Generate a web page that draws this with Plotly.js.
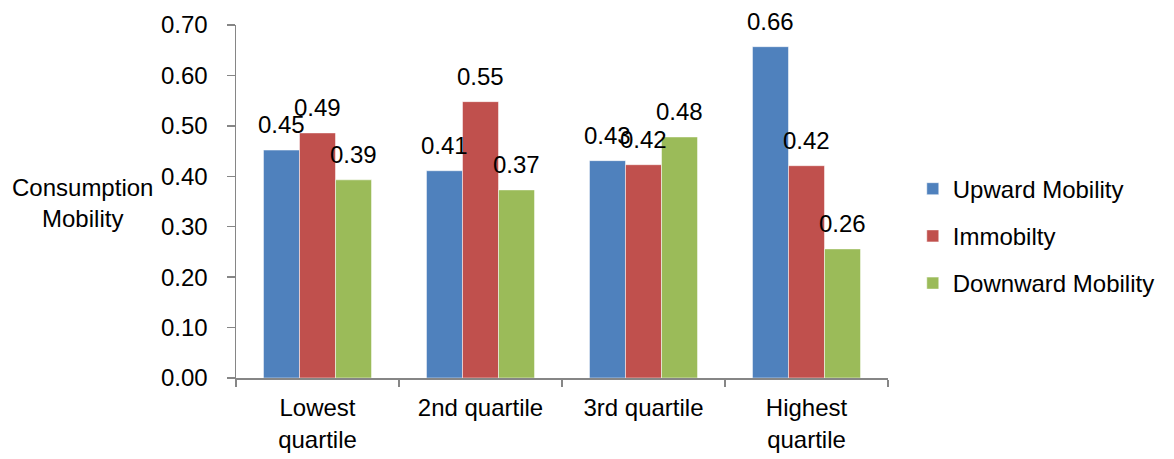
<!DOCTYPE html>
<html>
<head>
<meta charset="utf-8">
<script src="https://cdn.plot.ly/plotly-3.0.1.min.js"></script>
<style>html,body{margin:0;padding:0;background:#fff;}#chart{width:1174px;height:459px;}</style>
</head>
<body>
<div id="chart"></div>
<script>
const categories = ["Lowest<br>quartile", "2nd quartile", "3rd quartile", "Highest<br>quartile"];
const seriesNames = ["Upward Mobility", "Immobilty", "Downward Mobility"];
const upward = [0.452, 0.411, 0.431, 0.657];
const immobility = [0.486, 0.548, 0.423, 0.421];
const downward = [0.393, 0.373, 0.478, 0.256];
const yTickVals = [0, 0.1, 0.2, 0.3, 0.4, 0.5, 0.6, 0.7];
const yTickText = ["0.00", "0.10", "0.20", "0.30", "0.40", "0.50", "0.60", "0.70"];

const colors = ["#4F81BD", "#C0504D", "#9BBB59"];
const allSeries = [upward, immobility, downward];
const FONT = "Liberation Sans, Arial, sans-serif";
const fs = 24;

const traces = allSeries.map((vals, s) => ({
  type: "bar",
  name: seriesNames[s],
  x: categories,
  y: vals,
  legendgroup: "g" + s,
  marker: {color: colors[s], line: {color: "rgba(255,255,255,0.5)", width: 1}},
  hoverinfo: "none"
}));

// plot geometry: 652px wide, 4 categories, bargap 0.337 -> bar ~36px
const plotW = 652, bargap = 0.337;
const barPx = plotW / categories.length * (1 - bargap) / 3;
const annotations = [];
allSeries.forEach((vals, s) => {
  vals.forEach((v, i) => {
    annotations.push({
      x: categories[i], y: v, xref: "x", yref: "y",
      xshift: (s - 1) * barPx, yshift: 10,
      yanchor: "bottom", xanchor: "center",
      text: v.toFixed(2), showarrow: false,
      font: {family: FONT, size: fs, color: "#000"}
    });
  });
});
annotations.push({
  xref: "paper", yref: "paper", x: -0.236, y: 0.496,
  xanchor: "center", yanchor: "middle",
  text: "Consumption<br>Mobility", showarrow: false, align: "center",
  font: {family: FONT, size: fs, color: "#000"}
});

const layout = {
  width: 1174, height: 459,
  margin: {l: 236, r: 286, t: 25, b: 81},
  paper_bgcolor: "#fff", plot_bgcolor: "#fff",
  font: {family: FONT, size: fs, color: "#000"},
  barmode: "group", bargap: bargap, bargroupgap: 0,
  showlegend: true,
  legend: {
    x: 1.038, xanchor: "left", y: 0.402, yanchor: "middle",
    font: {family: FONT, size: fs, color: "#000"},
    traceorder: "grouped", tracegroupgap: 13,
    bgcolor: "rgba(0,0,0,0)"
  },
  xaxis: {
    type: "category",
    showline: true, linecolor: "#868686", linewidth: 1.5,
    ticks: "outside", tickson: "boundaries", ticklen: 7, tickcolor: "#868686", tickwidth: 1.5,
    ticklabelstandoff: 8,
    showgrid: false, zeroline: false,
    tickfont: {family: FONT, size: fs, color: "#000"},
    fixedrange: true
  },
  yaxis: {
    range: [0, 0.7],
    tickvals: yTickVals, ticktext: yTickText,
    showline: true, linecolor: "#868686", linewidth: 1.5,
    ticks: "outside", ticklen: 8, tickcolor: "#868686", tickwidth: 1.5,
    ticklabelstandoff: 14,
    showgrid: false, zeroline: false,
    tickfont: {family: FONT, size: fs, color: "#000"},
    fixedrange: true
  },
  annotations: annotations
};

Plotly.newPlot("chart", traces, layout, {displayModeBar: false, staticPlot: true});
</script>
</body>
</html>
